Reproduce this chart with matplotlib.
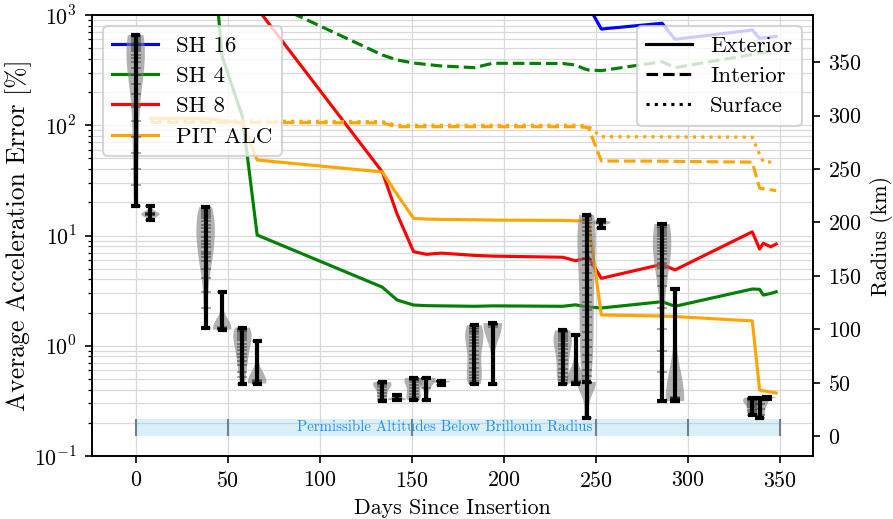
import numpy as np
import matplotlib
matplotlib.use("Agg")
import matplotlib.pyplot as plt
from matplotlib.lines import Line2D

# Acceleration error of each gravity model at the end of every mission phase
days = [8, 38, 47, 58, 66, 134, 142, 151, 158, 166, 184, 194, 232, 239,
        244, 246, 253, 286, 293, 335, 339, 341, 345, 348]

sh16_exterior = [1e6, 1e6, 1e6, 1e6, 1e6, 1e5, 5e4, 2e4, 1.5e4, 1.2e4, 1e4, 8e3,
                 5e3, 3e3, 2000, 1200, 746, 841, 602, 731, 615, 620, 630, 640]
sh4_exterior = [1e5, 2e4, 420, 120, 10.1, 3.4, 2.6, 2.34, 2.31, 2.30, 2.28, 2.30,
                2.28, 2.35, 2.27, 2.25, 2.20, 2.51, 2.28, 3.27, 3.25, 2.88, 2.98, 3.09]
sh4_interior = [3e4, 5e3, 3e3, 1900, 1465, 434, 391, 367, 356, 345, 333, 365,
                363, 352, 324, 317, 313, 377, 333, 438, 455, 460, 470, 482]
sh8_exterior = [1e5, 2e4, 8e3, 3e3, 1150, 37.7, 15.7, 7.13, 6.75, 6.92, 6.6, 6.5,
                6.35, 5.9, 6.21, 6.35, 4.09, 5.48, 4.87, 10.8, 7.54, 8.5, 7.9, 8.37]
pit_exterior = [116, 115, 110, 105, 48.4, 37.7, 23.6, 14.3, 14.1, 14.0, 13.9, 13.8,
                13.7, 13.6, 13.6, 13.5, 1.90, 1.86, 1.84, 1.68, 0.397, 0.39, 0.38, 0.373]
pit_interior = [106, 106, 106, 106, 106, 105, 97, 97, 97, 97, 97, 97,
                97, 97, 96, 95, 47.4, 47.2, 47.0, 46.3, 26.8, 26.5, 26.0, 25.5]
pit_surface = [110, 110, 110, 110, 109, 108, 100, 100, 100, 100, 100, 100,
               100, 100, 99, 97, 78.7, 78.5, 78.3, 77.9, 54.5, 46.6, 46.4, 46.3]

# Orbit radius samples (km) flown during each phase
violin_days = [0, 8, 38, 47, 58, 66, 134, 142, 151, 158, 166, 184, 194,
               232, 239, 245, 245, 253, 286, 293, 335, 339, 343]
radius_samples = [
    [375.4, 374, 372, 370, 368, 366, 364, 362, 360, 357, 354, 350, 345, 338,
     330, 320, 308, 295, 280, 265, 250, 235, 215.7],
    [202.6, 206.5, 207, 207.5, 208, 208.5, 209, 215.7],
    [214.1, 212, 210, 208, 206, 204, 201, 198, 195, 191, 186.5, 182.7, 179.6,
     176.5, 172.4, 170.2, 167.7, 163.9, 155.9, 147.5, 135, 120, 101.4],
    [99.6, 100.2, 100.6, 101, 101.5, 102.2, 134.7],
    [101.4, 100.5, 99.5, 98.5, 97, 95.5, 94, 92, 89.6, 86.5, 83.3, 80.2, 77.1,
     74, 70.2, 66.2, 60, 55, 49.1],
    [49.1, 49.5, 50, 50.5, 51, 52, 88.6],
    [50.6, 50.2, 49.8, 49.3, 48.5, 47.5, 45.5, 43, 40, 37, 34.5, 32.9],
    [33.5, 34, 34.3, 34.6, 35, 36, 38.2],
    [54.4, 54, 53.5, 52.8, 52, 50.5, 48, 45, 42, 39, 36.5, 35, 34, 33.5],
    [54.4, 54.2, 54, 53.6, 53, 45, 33.5],
    [47.5, 50.5, 51, 51.2, 51.4, 51.6],
    [103.6, 102.5, 101.5, 100, 98.5, 97, 95, 92.5, 90, 87, 84, 80, 76, 72, 68,
     64, 60, 57, 54, 51.5, 50, 49, 48.5],
    [105.7, 105.2, 104.8, 104.3, 103.5, 102, 48.5],
    [98.9, 98, 97, 96, 94.5, 93, 91, 89, 86.5, 84, 81, 78, 75, 71, 67, 63, 59,
     55, 52, 50, 49.1],
    [49.1, 49.6, 50, 50.4, 50.8, 51.5, 94.9],
    [207, 205.5, 204, 202, 199, 196, 192, 188, 183, 178, 172, 166, 160, 153,
     146, 139, 132, 125, 118, 111, 104, 97, 90, 83, 76, 69, 62, 56, 50.6],
    [17, 49.5, 50, 50.3, 50.6],
    [194.8, 199, 199.3, 199.6, 200, 200.4, 202.3],
    [198.6, 197.5, 196, 194.5, 193, 191, 189, 187, 184.5, 182, 179, 176, 173,
     170, 166, 162, 157, 150, 140, 120, 100, 80, 60, 32.6],
    [32.6, 34.5, 35, 35.4, 35.8, 36.3, 137.9],
    [35.7, 35.3, 34.8, 34.2, 33.5, 32.5, 31, 29, 27, 24.5, 22, 19.5],
    [17, 20, 25, 30, 34, 35, 35.4, 35.7],
    [35, 35.7, 36, 36.3, 36.6],
]

# Phase boundaries and the Brillouin band height (km)
phase_edges = [0, 50, 150, 250, 300, 350]
brillouin_band = 16

plt.rcParams.update({
    "font.family": "serif",
    "font.serif": ["cmr10"],
    "mathtext.fontset": "cm",
    "axes.formatter.use_mathtext": True,
    "font.size": 10,
    "xtick.labelsize": 10.5,
    "ytick.labelsize": 10.5,
})

fig = plt.figure(figsize=(893 / 150, 519 / 150), dpi=150)
ax = fig.add_axes([91.5 / 893, 63 / 519, 721.5 / 893, 441 / 519])

# error curves
ax.plot(days, sh16_exterior, color="blue")
ax.plot(days, sh4_exterior, color="green")
ax.plot(days, sh4_interior, color="green", ls="--")
ax.plot(days, sh8_exterior, color="red")
ax.plot(days, pit_exterior, color="orange")
ax.plot(days, pit_interior, color="orange", ls="--")
ax.plot(days, pit_surface, color="orange", ls=":")

ax.set_yscale("log")
ax.set_ylim(0.1, 1000)
ax.set_xlim(-24, 368)
ax.set_xticks(np.arange(0, 351, 50))
ax.grid(True, which="both", color="0.85", lw=0.6)
ax.set_xlabel("Days Since Insertion", fontsize=10.5)
ax.set_ylabel("Average Acceleration Error [%]", fontsize=12.3, labelpad=1)

model_handles = [Line2D([], [], color=c) for c in ("blue", "green", "red", "orange")]
leg1 = ax.legend(model_handles, ["SH 16", "SH 4", "SH 8", "PIT ALC"],
                 loc="upper left", fontsize=11, labelspacing=0.45)
ax.add_artist(leg1)
style_handles = [Line2D([], [], color="k", ls=s) for s in ("-", "--", ":")]
ax.legend(style_handles, ["Exterior", "Interior", "Surface"], loc="upper right",
          fontsize=11, labelspacing=0.45)

# radius distributions on the right axis
ax2 = ax.twinx()
spans = [(a, b - a) for a, b in zip(phase_edges[:-1], phase_edges[1:])]
ax2.broken_barh(spans, (0, brillouin_band), facecolor="skyblue", alpha=0.3,
                edgecolor="none")
ax2.vlines(phase_edges, 0, brillouin_band, color="slategray", lw=1)
ax2.text((phase_edges[0] + phase_edges[-1]) / 2 - 7, brillouin_band / 2,
         "Permissible Altitudes Below Brillouin Radius", color="dodgerblue",
         fontsize=7.2, ha="center", va="center")

parts = ax2.violinplot(radius_samples, positions=violin_days, widths=10)
for body in parts["bodies"]:
    body.set_facecolor("gray")
    body.set_edgecolor("none")
    body.set_alpha(0.6)
for key in ("cbars", "cmins", "cmaxes"):
    parts[key].set_color("k")
    parts[key].set_linewidth(2)
for d, s in zip(violin_days, radius_samples):
    ax2.plot([d] * len(s), s, ls="none", marker="_", ms=5, mew=0.8,
             color="k", alpha=0.4)

ax2.set_ylabel("Radius (km)", fontsize=10.5)
ax2.set_xlim(-24, 368)

fig.savefig("out.png", dpi=150)
